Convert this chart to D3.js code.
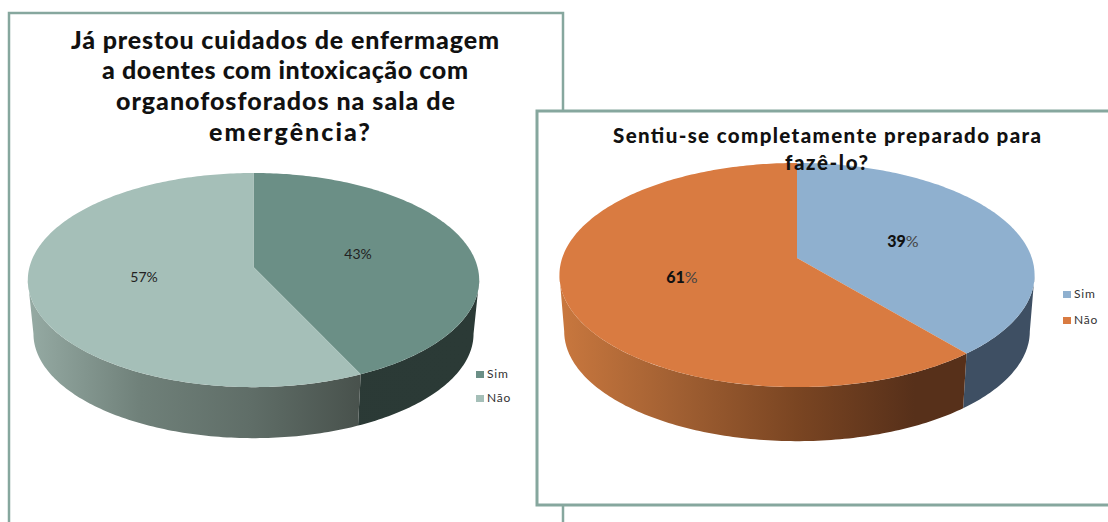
<!DOCTYPE html>
<html><head><meta charset="utf-8">
<script src="https://cdn.jsdelivr.net/npm/d3@7/dist/d3.min.js"></script>
<style>html,body{margin:0;padding:0;background:#fff;overflow:hidden}svg{display:block;font-family:Lato,"Open Sans",sans-serif}</style>
</head><body><svg id="c" width="1108" height="522"></svg>
<script>
const categories = ["Sim", "Não"];
const leftValues = [43, 57];
const rightValues = [39, 61];
const leftTitle = ["Já prestou cuidados de enfermagem","a doentes com intoxicação com","organofosforados na sala de","emergência?"];
const rightTitle = ["Sentiu-se completamente preparado para","fazê-lo?"];
const leftColors = ["#6b8f86","#a5bfb8"];
const rightColors = ["#8fb0cf","#d97b41"];

const svg = d3.select("#c");
const defs = svg.append("defs");
const frame = "#86a79e";

function panel(x,y,w,h,sw){
  svg.append("rect").attr("x",x).attr("y",y).attr("width",w).attr("height",h)
    .attr("fill","#fff").attr("stroke",frame).attr("stroke-width",sw);
}

function drawPie(cfg){
  const g = svg.append("g");
  const pie = d3.pie().sort(null).startAngle(0).endAngle(2*Math.PI);
  const arcs = pie(cfg.values);
  const project = (t, shrink=1, drop=0) => {
    const u = Math.sin(t), v = -Math.cos(t), s = 1/(1 - cfg.k*v);
    return [cfg.cx + cfg.R*u*s*shrink, cfg.cy + cfg.fR*v*s*shrink + drop];
  };
  const line = d3.line();
  const samples = (a,b) => { const n = Math.max(2,Math.ceil((b-a)*60)); return d3.range(n+1).map(i => a+(b-a)*i/n); };
  // the wall starts where the perspective ellipse reaches its widest point
  const tangent = Math.acos(-cfg.k);
  const lim0 = tangent, lim1 = 2*Math.PI - tangent;
  arcs.forEach((d,i) => {
    const a = Math.max(d.startAngle, lim0), b = Math.min(d.endAngle, lim1);
    if (b <= a) return;
    const ts = samples(a,b);
    const pts = ts.map(t => project(t)).concat(ts.slice().reverse().map(t => project(t,cfg.shrink,cfg.drop)));
    const id = cfg.id + "s" + i;
    const grad = defs.append("linearGradient").attr("id",id).attr("gradientUnits","userSpaceOnUse")
      .attr("x1",cfg.cx-cfg.R).attr("x2",cfg.cx+cfg.R).attr("y1",0).attr("y2",0);
    cfg.sides[i].forEach((c,j,arr) => grad.append("stop").attr("offset",j/(arr.length-1)).attr("stop-color",c));
    g.append("path").attr("d",line(pts)+"Z").attr("fill",`url(#${id})`);
  });
  arcs.forEach((d,i) => {
    const pts = [[cfg.cx,cfg.cy]].concat(samples(d.startAngle,d.endAngle).map(t => project(t)));
    g.append("path").attr("d",line(pts)+"Z").attr("fill",cfg.colors[i]);
  });
}

function titleLines(lines, spans, baselines, size){
  lines.forEach((t,i) => {
    svg.append("text").attr("x",spans[i][0]).attr("y",baselines[i])
      .attr("textLength",spans[i][1]-spans[i][0]).attr("lengthAdjust","spacing")
      .attr("font-size",size).attr("font-weight",900).attr("fill","#111").text(t);
  });
}
function legend(x, ys, colors, size){
  categories.forEach((c,i) => {
    svg.append("rect").attr("x",x).attr("y",ys[i]-7).attr("width",8).attr("height",7).attr("fill",colors[i]);
    svg.append("text").attr("x",x+11).attr("y",ys[i]).attr("font-size",size).attr("letter-spacing",0.8).attr("fill","#333").text(c);
  });
}

panel(9,13,554,520,2.5);
drawPie({id:"L",values:leftValues,colors:leftColors,cx:253.5,cy:267,R:224,fR:105.5,k:0.122,shrink:0.975,drop:54,
  sides:[["#2a3935","#2b3a36"],["#95aaa3","#6f8079","#5f6d67","#47504b","#47504b"]]});
titleLines(leftTitle,[[71,499],[102,468],[116,455],[209,370]],[49,79,110,141],25);
const pctL = [[358,259],[144,282]];
leftValues.forEach((v,i)=>svg.append("text").attr("x",pctL[i][0]).attr("y",pctL[i][1]).attr("text-anchor","middle")
  .attr("font-size",14).attr("fill","#222").text(v+"%"));
legend(476,[378,402],leftColors,12);

panel(537,111,580,394,3);
drawPie({id:"R",values:rightValues,colors:rightColors,cx:797,cy:258,R:234.8,fR:109.5,k:0.152,shrink:0.98,drop:56.6,
  sides:[["#3e4f63","#3e4f63"],["#c8773e","#a05f32","#7a4522","#57301a","#57301a"]]});
titleLines(rightTitle,[[613,1041],[785,868]],[143,170],20.5);
const pctR = [[903,247],[682,283]];
rightValues.forEach((v,i)=>{
  const t = svg.append("text").attr("x",pctR[i][0]).attr("y",pctR[i][1]).attr("text-anchor","middle").attr("font-size",16).attr("fill","#222");
  t.append("tspan").attr("font-weight",900).attr("fill","#111").text(v);
  t.append("tspan").attr("fill","#444").text("%");
});
legend(1063,[298,324],rightColors,12);
</script></body></html>
